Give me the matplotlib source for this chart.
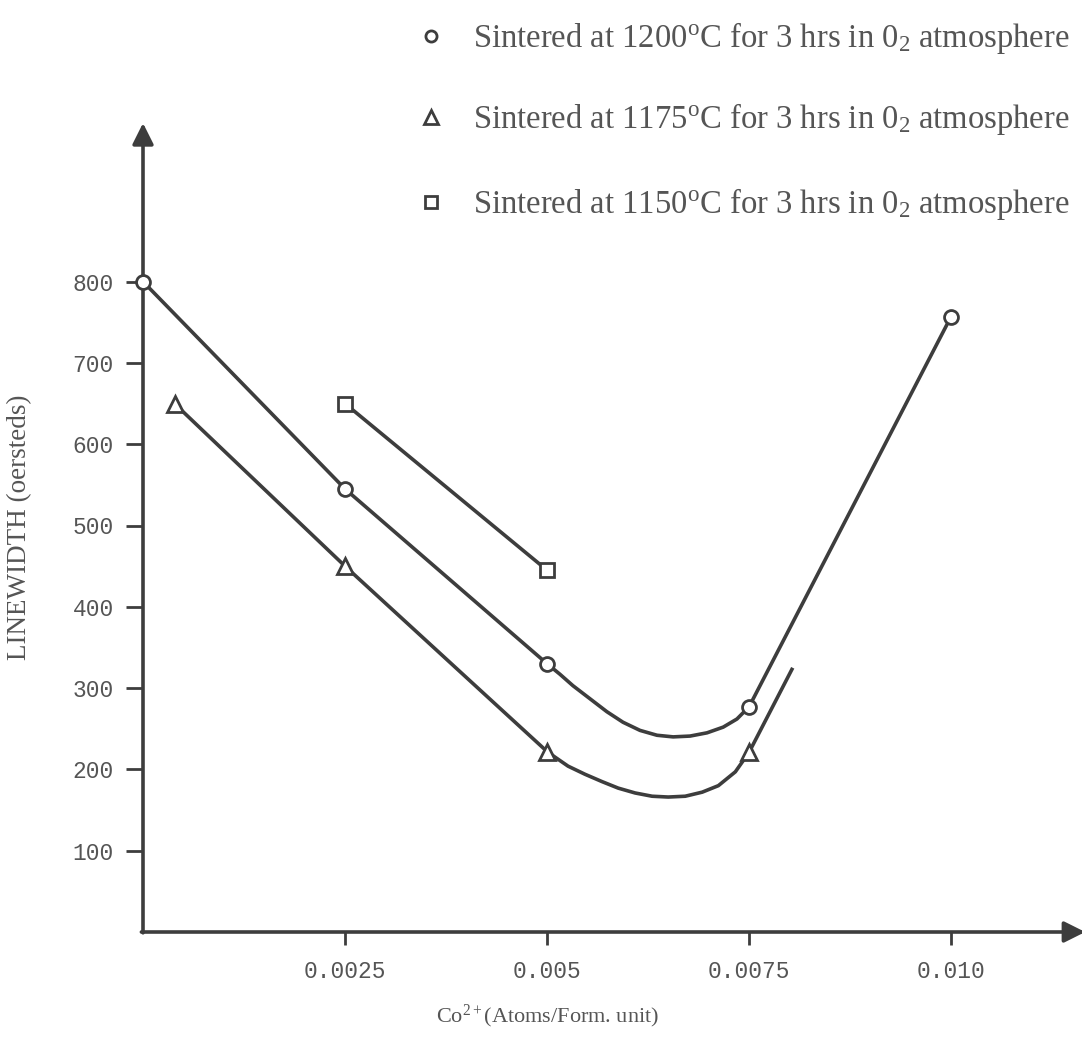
import matplotlib
matplotlib.use("Agg")
import matplotlib.pyplot as plt

# measured points (markers)
co_1200 = [0.0, 0.0025, 0.005, 0.0075, 0.010]
lw_1200 = [800, 545, 330, 277, 757]
co_1175 = [0.0004, 0.0025, 0.005, 0.0075]
lw_1175 = [649, 450, 222, 221]
co_1150 = [0.0025, 0.005]
lw_1150 = [650, 445]

# hand-drawn curves
curve_x_1200 = [0.0, 0.0025, 0.005, 0.00516, 0.00532, 0.00553, 0.00574, 0.00594,
                0.00615, 0.00636, 0.00656, 0.00677, 0.00698, 0.00718, 0.00735,
                0.0075, 0.010]
curve_y_1200 = [800, 545, 330, 317, 303, 287, 271, 258,
                248, 242, 240, 241, 245, 252, 262,
                277, 757]
curve_x_1175 = [0.0004, 0.0025, 0.005, 0.0051, 0.00526, 0.00547, 0.00568, 0.00588,
                0.00609, 0.0063, 0.0065, 0.00671, 0.00692, 0.00712, 0.00733,
                0.0075, 0.00803]
curve_y_1175 = [649, 450, 222, 215, 204, 194, 185, 177,
                171, 167, 166, 167, 172, 180, 197,
                221, 323]

legend_labels = [
    "Sintered at 1200$^{\\mathrm{o}}$C for 3 hrs in 0$_{2}$ atmosphere",
    "Sintered at 1175$^{\\mathrm{o}}$C for 3 hrs in 0$_{2}$ atmosphere",
    "Sintered at 1150$^{\\mathrm{o}}$C for 3 hrs in 0$_{2}$ atmosphere",
]
legend_markers = ["o", "^", "s"]

y_ticks = [100, 200, 300, 400, 500, 600, 700, 800]
x_ticks = [0.0025, 0.005, 0.0075, 0.010]
x_tick_labels = ["0.0025", "0.005", "0.0075", "0.010"]

ink = "#3d3d3d"
txt = "#555555"

plt.rcParams["mathtext.fontset"] = "custom"
plt.rcParams["mathtext.rm"] = "Liberation Serif"
plt.rcParams["mathtext.it"] = "Liberation Serif:italic"

W, H = 1082, 1039
fig = plt.figure(figsize=(W / 100, H / 100), dpi=100, facecolor="white")
ax = fig.add_axes([143 / W, 107 / H, (W - 143) / W, 813 / H])
ax.set_xlim(0, 0.01162)
ax.set_ylim(0, 1000)
for s in ax.spines.values():
    s.set_visible(False)

# axes with arrow heads
ax.annotate("", xy=(0, 995), xytext=(0, -1), xycoords="data",
            arrowprops=dict(arrowstyle="-|>", color=ink, lw=2.6,
                            mutation_scale=32, shrinkA=0, shrinkB=0),
            annotation_clip=False)
ax.annotate("", xy=(0.01166, 0), xytext=(-0.00002, 0), xycoords="data",
            arrowprops=dict(arrowstyle="-|>", color=ink, lw=2.6,
                            mutation_scale=32, shrinkA=0, shrinkB=0),
            annotation_clip=False)

ax.set_yticks(y_ticks)
ax.set_yticklabels([str(v) for v in y_ticks])
ax.set_xticks(x_ticks)
ax.set_xticklabels(x_tick_labels)
ax.tick_params(axis="y", direction="out", length=12, width=2, color=ink,
               pad=9, labelsize=16.5, labelcolor=txt)
ax.tick_params(axis="x", direction="out", length=9, width=2, color=ink,
               pad=11, labelsize=16.5, labelcolor=txt)
for lab in ax.get_xticklabels() + ax.get_yticklabels():
    lab.set_family("Liberation Mono")

# curves
ax.plot(curve_x_1200, curve_y_1200, color=ink, lw=2.6, clip_on=False, zorder=3)
ax.plot(curve_x_1175, curve_y_1175, color=ink, lw=2.6, clip_on=False, zorder=3)
ax.plot(co_1150, lw_1150, color=ink, lw=2.6, clip_on=False, zorder=3)

mk = dict(color=ink, mfc="white", mec=ink, mew=2, ls="none", clip_on=False, zorder=4)
ax.plot(co_1200, lw_1200, marker="o", ms=10, **mk)
ax.plot(co_1175, lw_1175, marker="^", ms=12, **mk)
ax.plot(co_1150, lw_1150, marker="s", ms=10, **mk)

# legend (manual placement above the plot)
leg_y = [38, 119, 204]
leg_ms = [8, 10, 8]
for lab, m, yy, ms in zip(legend_labels, legend_markers, leg_y, leg_ms):
    fig.lines.append(plt.Line2D([431 / W], [1 - (yy - 2) / H], transform=fig.transFigure,
                                marker=m, ms=ms, mfc="white", mec=ink, mew=2,
                                ls="none"))
    fig.text(473 / W, 1 - yy / H, lab, family="Liberation Serif", fontsize=23.5,
             color=txt, va="center", ha="left")

fig.text(20 / W, 1 - 527 / H, "LINEWIDTH (oersteds)", family="Liberation Serif",
         fontsize=19.5, color=txt, rotation=90, va="center", ha="center")
fig.text(548 / W, 1 - 1016 / H, "Co$^{2+}$(Atoms/Form. unit)",
         family="Liberation Serif", fontsize=16, color=txt, va="center", ha="center")

fig.savefig("out.png", dpi=100, facecolor="white")
